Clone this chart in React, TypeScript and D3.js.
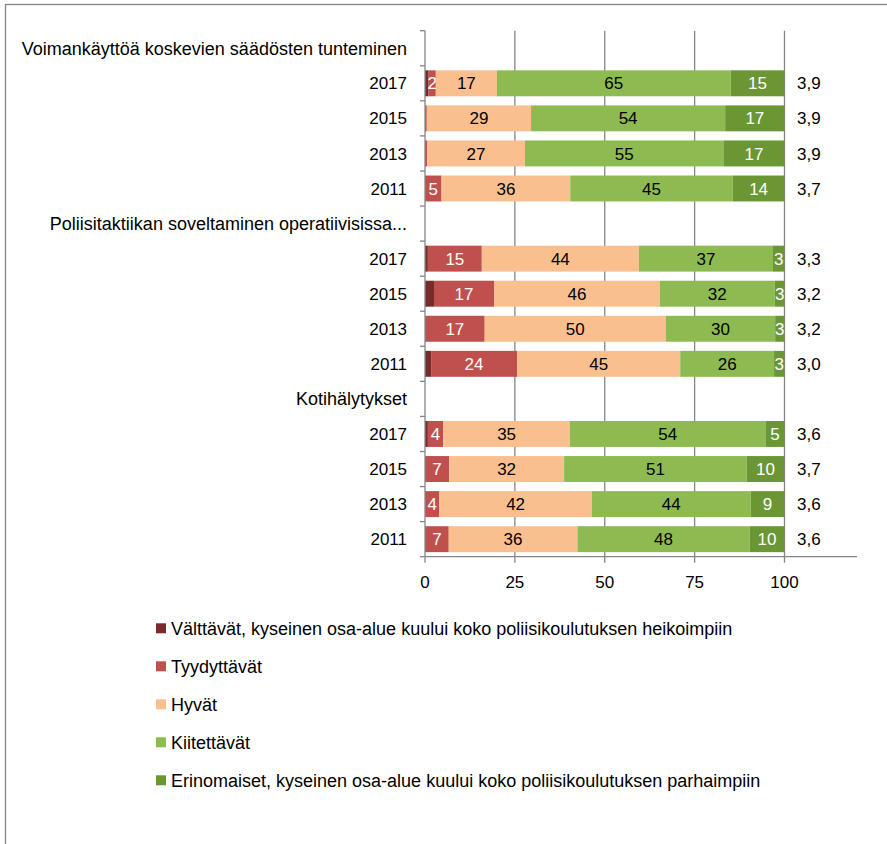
import React, { useEffect, useRef } from 'react';
import * as d3 from 'd3';

// Rating series (stacked left to right)
const series = [
  'Välttävät, kyseinen osa-alue kuului koko poliisikoulutuksen heikoimpiin',
  'Tyydyttävät',
  'Hyvät',
  'Kiitettävät',
  'Erinomaiset, kyseinen osa-alue kuului koko poliisikoulutuksen parhaimpiin',
];
const colors = ['#772C2A', '#C0504D', '#FABF8F', '#8DBB51', '#6B9634'];
const labelColors = ['#ffffff', '#ffffff', '#000000', '#000000', '#ffffff'];

const groups = [
  'Voimankäyttöä koskevien säädösten tunteminen',
  'Poliisitaktiikan soveltaminen operatiivisissa...',
  'Kotihälytykset',
];
const years = ['2017', '2015', '2013', '2011'];

// values per group, per year: [välttävät, tyydyttävät, hyvät, kiitettävät, erinomaiset]
const voimankaytto = [
  [1, 2, 17, 65, 15],
  [0, 0.5, 29, 54, 16.5],
  [0, 0.6, 27.2, 55.2, 17],
  [0, 4.6, 35.8, 45.2, 14.4],
];
const poliisitaktiikka = [
  [0.8, 15, 43.7, 37.3, 3.2],
  [2.5, 16.7, 46.1, 32, 2.7],
  [0, 16.6, 50.4, 30.4, 2.6],
  [1.7, 23.9, 45.4, 26.1, 2.9],
];
const kotihalytykset = [
  [0.8, 4.3, 35.2, 54.4, 5.3],
  [0, 6.7, 32, 50.8, 10.4],
  [0, 4, 42.4, 44.2, 9.4],
  [0, 6.6, 35.8, 47.9, 9.7],
];
const groupValues = [voimankaytto, poliisitaktiikka, kotihalytykset];

// mean ratings shown to the right of bars
const means = [
  ['3,9', '3,9', '3,9', '3,7'],
  ['3,3', '3,2', '3,2', '3,0'],
  ['3,6', '3,7', '3,6', '3,6'],
];

const xTicks = [0, 25, 50, 75, 100];

const FONT = '"Liberation Sans", Arial, sans-serif';

const App = () => {
  const ref = useRef<SVGSVGElement>(null);

  useEffect(() => {
    document.body.style.margin = '0';
    const svg = d3.select(ref.current);
    svg.selectAll('*').remove();

    const top = 30.7;
    const bottom = 556.7;
    const axisGrey = '#868686';

    // frame
    svg.append('rect')
      .attr('x', 5.5).attr('y', 4.5)
      .attr('width', 1000).attr('height', 1000)
      .attr('fill', 'none').attr('stroke', axisGrey).attr('stroke-width', 1.3);

    // rows: header + years per group
    const rows: { key: string; label: string; header: boolean; g: number; y: number }[] = [];
    groups.forEach((g, gi) => {
      rows.push({ key: `h${gi}`, label: g, header: true, g: gi, y: -1 });
      years.forEach((yr, yi) => rows.push({ key: `${gi}-${yr}`, label: yr, header: false, g: gi, y: yi }));
    });

    const x = d3.scaleLinear().domain([0, 100]).range([425, 784.5]);
    const y = d3.scaleBand<string>()
      .domain(rows.map(r => r.key))
      .range([top, bottom])
      .paddingInner(0.26)
      .paddingOuter(0.13);
    const step = y.step();

    // vertical gridlines
    svg.append('g')
      .selectAll('line')
      .data(xTicks.slice(1))
      .enter()
      .append('line')
      .attr('x1', d => x(d)).attr('x2', d => x(d))
      .attr('y1', top).attr('y2', bottom)
      .attr('stroke', axisGrey).attr('stroke-width', 1.3);

    // bars
    const barG = svg.append('g');
    rows.filter(r => !r.header).forEach(r => {
      const vals = groupValues[r.g][r.y];
      let acc = 0;
      vals.forEach((v, si) => {
        const x0 = acc;
        acc += v;
        if (v <= 0) return;
        barG.append('rect')
          .attr('x', x(x0))
          .attr('y', y(r.key)!)
          .attr('width', x(x0 + v) - x(x0))
          .attr('height', y.bandwidth())
          .attr('fill', colors[si]);
        if (si > 0 && v >= 1.5) {
          barG.append('text')
            .attr('x', x(x0 + v / 2))
            .attr('y', y(r.key)! + y.bandwidth() / 2)
            .attr('dy', '0.36em')
            .attr('text-anchor', 'middle')
            .attr('font-family', FONT)
            .attr('font-size', 17)
            .attr('fill', labelColors[si])
            .text(Math.round(v));
        }
      });
      // mean value
      svg.append('text')
        .attr('x', 797)
        .attr('y', y(r.key)! + y.bandwidth() / 2)
        .attr('dy', '0.36em')
        .attr('font-family', FONT)
        .attr('font-size', 17)
        .attr('fill', '#000')
        .text(means[r.g][r.y]);
    });

    // category axis
    svg.append('line')
      .attr('x1', 425).attr('x2', 425)
      .attr('y1', top).attr('y2', bottom)
      .attr('stroke', axisGrey).attr('stroke-width', 1.3);
    svg.append('g')
      .selectAll('line')
      .data(d3.range(rows.length + 1))
      .enter()
      .append('line')
      .attr('x1', 420).attr('x2', 425)
      .attr('y1', i => top + i * step).attr('y2', i => top + i * step)
      .attr('stroke', axisGrey).attr('stroke-width', 1.3);

    svg.append('g')
      .selectAll('text')
      .data(rows)
      .enter()
      .append('text')
      .attr('x', 407)
      .attr('y', r => y(r.key)! + y.bandwidth() / 2)
      .attr('dy', '0.36em')
      .attr('text-anchor', 'end')
      .attr('font-family', FONT)
      .attr('font-size', r => (r.header ? 18 : 17))
      .attr('fill', '#000')
      .text(r => r.label);

    // value axis
    svg.append('line')
      .attr('x1', 425).attr('x2', 857)
      .attr('y1', bottom).attr('y2', bottom)
      .attr('stroke', axisGrey).attr('stroke-width', 1.3);
    const xt = svg.append('g');
    xt.selectAll('line')
      .data(xTicks)
      .enter()
      .append('line')
      .attr('x1', d => x(d)).attr('x2', d => x(d))
      .attr('y1', bottom).attr('y2', bottom + 6)
      .attr('stroke', axisGrey).attr('stroke-width', 1.3);
    xt.selectAll('text')
      .data(xTicks)
      .enter()
      .append('text')
      .attr('x', d => x(d))
      .attr('y', 582)
      .attr('dy', '0.36em')
      .attr('text-anchor', 'middle')
      .attr('font-family', FONT)
      .attr('font-size', 17)
      .attr('fill', '#000')
      .text(d => d);

    // legend
    const legend = svg.append('g')
      .selectAll('g')
      .data(series)
      .enter()
      .append('g')
      .attr('transform', (d, i) => `translate(156, ${628.3 + i * 38})`);
    legend.append('rect')
      .attr('x', 0).attr('y', -5)
      .attr('width', 10).attr('height', 10)
      .attr('fill', (d, i) => colors[i]);
    legend.append('text')
      .attr('x', 15)
      .attr('y', 0)
      .attr('dy', '0.36em')
      .attr('font-family', FONT)
      .attr('font-size', 18)
      .attr('fill', '#000')
      .text(d => d);
  }, []);

  return <svg ref={ref} width={887} height={844} style={{ display: 'block' }} />;
};

export default App;
